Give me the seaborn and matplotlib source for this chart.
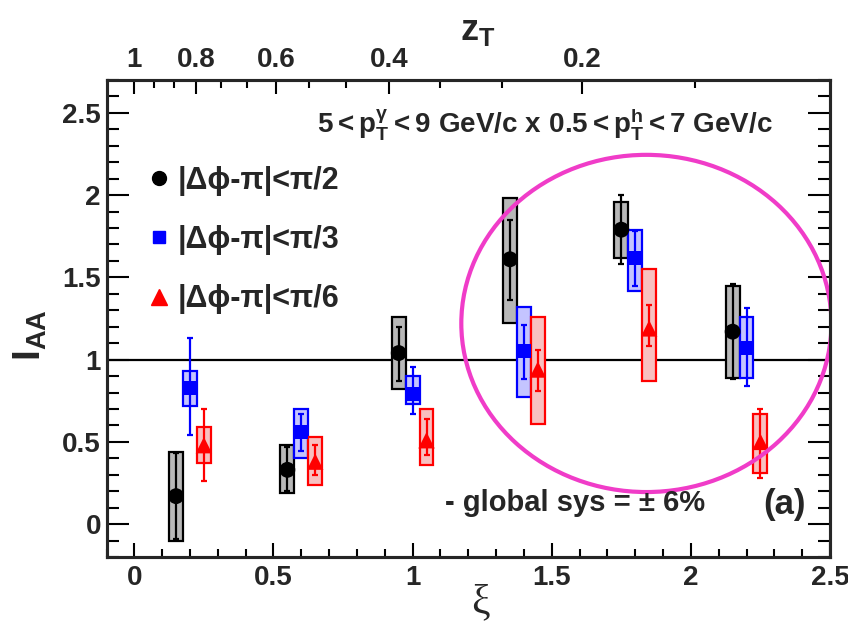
import numpy as np
import pandas as pd
import matplotlib
matplotlib.use('Agg')
import matplotlib.pyplot as plt
from matplotlib.patches import Rectangle, Ellipse
from matplotlib.lines import Line2D
import seaborn as sns

# xi bins and the three delta-phi windows
xi_bins = [0.2, 0.6, 1.0, 1.4, 1.8, 2.2]
series = ['|Δϕ-π|<π/2', '|Δϕ-π|<π/3', '|Δϕ-π|<π/6']

iaa_pi2 = [0.17, 0.33, 1.04, 1.61, 1.79, 1.17]
stat_lo_pi2 = [-0.09, 0.20, 0.87, 1.365, 1.58, 0.88]
stat_hi_pi2 = [0.43, 0.47, 1.20, 1.85, 2.00, 1.46]
sys_lo_pi2 = [-0.10, 0.19, 0.82, 1.22, 1.62, 0.89]
sys_hi_pi2 = [0.44, 0.48, 1.26, 1.98, 1.96, 1.45]

iaa_pi3 = [0.83, 0.56, 0.79, 1.05, 1.62, 1.07]
stat_lo_pi3 = [0.54, 0.445, 0.67, 0.88, 1.45, 0.84]
stat_hi_pi3 = [1.13, 0.67, 0.955, 1.21, 1.78, 1.315]
sys_lo_pi3 = [0.72, 0.40, 0.73, 0.77, 1.42, 0.89]
sys_hi_pi3 = [0.93, 0.70, 0.90, 1.32, 1.79, 1.26]

iaa_pi6 = [0.48, 0.38, 0.51, 0.94, 1.19, 0.50]
stat_lo_pi6 = [0.26, 0.30, 0.42, 0.81, 1.08, 0.28]
stat_hi_pi6 = [0.70, 0.48, 0.64, 1.06, 1.335, 0.70]
sys_lo_pi6 = [0.37, 0.24, 0.36, 0.61, 0.87, 0.31]
sys_hi_pi6 = [0.59, 0.53, 0.70, 1.26, 1.55, 0.67]

zt_major = [1, 0.8, 0.6, 0.4, 0.2]

# styles
dodge = [-0.05, 0.0, 0.05]
colors = ['black', '#0000ff', '#ff0000']
fills = ['#b8b8b8', '#c4c4ff', '#f8c0c0']
markers = ['o', 's', '^']
msizes = [130, 100, 140]
box_w = 0.05

frames = []
for name, off, v, slo, shi, ylo, yhi in zip(
        series, dodge,
        [iaa_pi2, iaa_pi3, iaa_pi6],
        [stat_lo_pi2, stat_lo_pi3, stat_lo_pi6],
        [stat_hi_pi2, stat_hi_pi3, stat_hi_pi6],
        [sys_lo_pi2, sys_lo_pi3, sys_lo_pi6],
        [sys_hi_pi2, sys_hi_pi3, sys_hi_pi6]):
    frames.append(pd.DataFrame({'series': name, 'xi': np.array(xi_bins) + off, 'iaa': v,
                                'stat_lo': slo, 'stat_hi': shi, 'sys_lo': ylo, 'sys_hi': yhi}))
df = pd.concat(frames, ignore_index=True)

sns.set_theme(style='ticks')
plt.rcParams['font.family'] = ['Liberation Sans', 'DejaVu Sans']
plt.rcParams['font.weight'] = 'bold'
plt.rcParams['mathtext.fontset'] = 'custom'
plt.rcParams['mathtext.rm'] = 'Liberation Sans:bold'
plt.rcParams['mathtext.it'] = 'Liberation Sans:bold'
plt.rcParams['mathtext.bf'] = 'Liberation Sans:bold'

fig = plt.figure(figsize=(8.48, 6.39), dpi=100)
ax = fig.add_axes([0.1256, 0.1283, 0.8532, 0.7465])

# systematic boxes and statistical bars
for name, c, fc in zip(series, colors, fills):
    d = df[df['series'] == name]
    for _, r in d.iterrows():
        ax.add_patch(Rectangle((r['xi'] - box_w / 2, r['sys_lo']), box_w, r['sys_hi'] - r['sys_lo'],
                               facecolor=fc, edgecolor=c, lw=1.6, zorder=2))
    ax.errorbar(d['xi'], d['iaa'], yerr=[d['iaa'] - d['stat_lo'], d['stat_hi'] - d['iaa']],
                fmt='none', ecolor=c, elinewidth=1.6, capsize=2.5, capthick=1.6, zorder=3)

sns.scatterplot(data=df, x='xi', y='iaa', hue='series', style='series', size='series',
                palette=dict(zip(series, colors)), markers=dict(zip(series, markers)),
                sizes=dict(zip(series, msizes)), linewidth=0, legend=False, ax=ax, zorder=4)

ax.axhline(1, color='black', lw=1.6, zorder=1)
ax.add_patch(Ellipse((1.84, 1.22), 1.33, 2.05, fill=False, edgecolor='#f03cc8', lw=3, zorder=6))

ax.set_xlim(-0.1, 2.5)
ax.set_ylim(-0.2, 2.7)
ax.set_xticks(np.arange(0, 2.51, 0.5))
ax.set_xticklabels(['0', '0.5', '1', '1.5', '2', '2.5'])
ax.set_xticks(np.arange(-0.1, 2.51, 0.1), minor=True)
ax.set_yticks(np.arange(0, 2.51, 0.5))
ax.set_yticklabels(['0', '0.5', '1', '1.5', '2', '2.5'])
ax.set_yticks(np.arange(-0.2, 2.71, 0.1), minor=True)
ax.set_xlabel('')
ax.set_ylabel('')
ax.tick_params(which='both', direction='in', top=False, right=True, labelsize=20, width=1.5, color='black')
ax.tick_params(axis='x', which='major', length=10, pad=6)
ax.tick_params(axis='x', which='minor', length=6)
ax.tick_params(axis='y', which='major', length=16, pad=4)
ax.tick_params(axis='y', which='minor', length=8.5)
for sp in ax.spines.values():
    sp.set_linewidth(2.2)
    sp.set_color('black')

# top z_T axis, xi = ln(1/z_T)
ax2 = ax.twiny()
ax2.set_xlim(ax.get_xlim())
ax2.set_xticks(-np.log(zt_major))
ax2.set_xticklabels(['1', '0.8', '0.6', '0.4', '0.2'])
zt_minor = np.arange(1, 15) / 15
ax2.set_xticks(-np.log(zt_minor[-np.log(zt_minor) < 2.5]), minor=True)
ax2.tick_params(which='both', direction='in', labelsize=20, width=1.5, color='black')
ax2.tick_params(which='major', length=10, pad=5)
ax2.tick_params(which='minor', length=6)
for sp in ax2.spines.values():
    sp.set_linewidth(2.2)

# legend
handles = [Line2D([], [], ls='none', marker=m, color=c, markersize=s)
           for m, c, s in zip(markers, colors, [10, 9, 11])]
ax.legend(handles, series, loc='upper left', bbox_to_anchor=(0.045, 0.845), frameon=False,
          fontsize=22, handlelength=0.5, handletextpad=0.35, labelspacing=0.95, borderaxespad=0)

fig.text(0.642, 0.806, r'$\mathrm{5 < p_T^{\gamma} < 9\ GeV/c\ x\ 0.5 < p_T^{h} < 7\ GeV/c}$',
         ha='center', va='center', fontsize=20)
fig.text(0.525, 0.213, '- global sys = ± 6%', ha='left', va='center', fontsize=21)
fig.text(0.9, 0.21, '(a)', ha='left', va='center', fontsize=25)
fig.text(478 / 848, 1 - 30 / 639, r'$\mathrm{z_T}$', ha='center', va='center', fontsize=26)
fig.text(480 / 848, 1 - 603 / 639, 'ξ', ha='center', va='center', fontsize=30,
         family=['Liberation Serif', 'DejaVu Serif'], weight='normal')
fig.text(30 / 848, 1 - 335 / 639, r'$\mathrm{I_{AA}}$', ha='center', va='center', fontsize=28, rotation=90)

fig.savefig('out.png', dpi=100)
